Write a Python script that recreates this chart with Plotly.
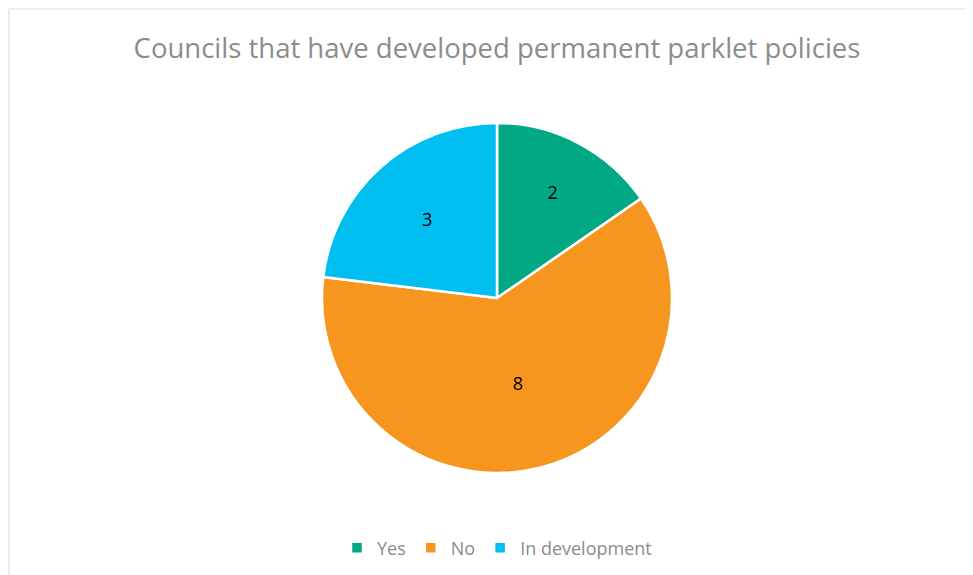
import plotly.graph_objects as go

labels = ['Yes', 'No', 'In development']
values = [2, 8, 3]
colors = ['#00A884', '#F7961E', '#00BFF0']

W, H = 973, 575
OFF = 8  # page body margin

fig = go.Figure(go.Pie(
    labels=labels,
    values=values,
    sort=False,
    direction='clockwise',
    rotation=0,
    marker=dict(colors=colors, line=dict(color='white', width=2.5)),
    textinfo='value',
    textposition='inside',
    insidetextorientation='horizontal',
    textfont=dict(family='Open Sans', size=18, color='black'),
    domain=dict(x=[(322 - OFF) / W, (672 - OFF) / W],
                y=[1 - (473 - OFF) / H, 1 - (123 - OFF) / H]),
))

fig.update_layout(
    width=W,
    height=H,
    margin=dict(l=0, r=0, t=0, b=0),
    paper_bgcolor='white',
    title=dict(text='Councils that have developed permanent parklet policies',
               x=(497 - OFF) / W, xanchor='center',
               y=1 - (48 - OFF) / H, yanchor='middle',
               font=dict(family='Open Sans', size=27.5, color='#8C8C8C')),
    legend=dict(orientation='h', x=(497 - OFF) / W, xanchor='center',
                y=1 - (548 - OFF) / H, yanchor='middle', itemwidth=30,
                font=dict(family='Open Sans', size=18, color='#8C8C8C')),
    shapes=[dict(type='rect', xref='paper', yref='paper',
                 x0=(9 - OFF) / W, x1=1.02, y0=-0.02, y1=1 - (9 - OFF) / H,
                 line=dict(color='#D9D9D9', width=1))],
)

fig.write_html('out.html')
